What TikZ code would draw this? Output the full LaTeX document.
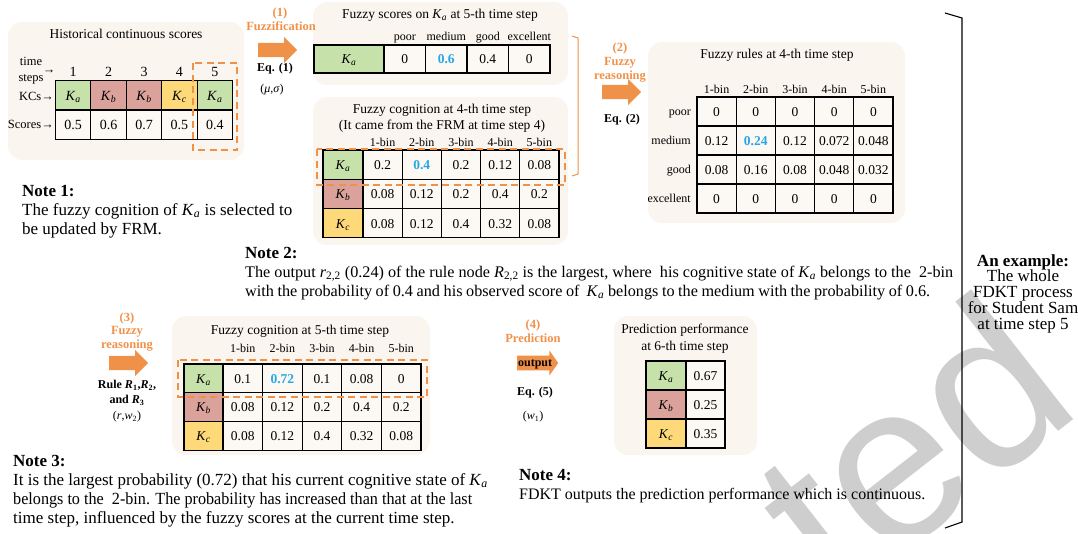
\documentclass[tikz,border=0pt]{standalone}
\usepackage{fontspec}
\usepackage{graphicx}
\setmainfont{Liberation Serif}
\setsansfont{Liberation Sans}
\usetikzlibrary{shapes.arrows}

\definecolor{panelbg}{HTML}{FAF5EE}
\definecolor{cellbg}{HTML}{FCF9F4}
\definecolor{kgreen}{HTML}{C6E1A9}
\definecolor{kpink}{HTML}{DAA29B}
\definecolor{kyellow}{HTML}{FDD97A}
\definecolor{accent}{HTML}{F0914A}
\definecolor{hiblue}{HTML}{26A6E4}
\definecolor{wmgray}{HTML}{CECECE}

% knowledge components and highlighted values
\newcommand\Ka{\textit{K}\textsubscript{\textit{a}}}
\newcommand\Kb{\textit{K}\textsubscript{\textit{b}}}
\newcommand\Kc{\textit{K}\textsubscript{\textit{c}}}
\newcommand\hival[1]{\textbf{\textcolor{hiblue}{#1}}}
% a note line set to a fixed width by squeezing its word spaces
\newcommand\fitline[2]{{\spaceskip=0.25em plus 0.12em minus 0.13em\relax\makebox[#1][s]{#2}}}
% a note line narrowed horizontally to a fixed width
\newcommand\narrowline[2]{\resizebox{#1}{\height}{#2}}

\begin{document}
\begin{tikzpicture}[x=1pt,y=-1pt,
  panel/.style={fill=panelbg, rounded corners=14pt},
  cell/.style={draw=black, line width=1.1pt, fill=cellbg, inner sep=0pt,
    text height=9.5pt, text depth=0pt, font=\fontsize{13.5}{16}\selectfont},
  selbox/.style={draw=accent, line width=2pt, dash pattern=on 7pt off 4.5pt},
  title/.style={inner sep=0pt, anchor=base, font=\fontsize{13.5}{16}\selectfont},
  mtitle/.style={inner sep=0pt, anchor=north, align=center},
  hdr/.style={inner sep=0pt, anchor=base, font=\fontsize{12}{14}\selectfont},
  rowlbl/.style={inner sep=0pt, font=\fontsize{12.5}{15}\selectfont},
  steplbl/.style={inner sep=0pt, text=accent, align=center, font=\bfseries\fontsize{12.5}{14.5}\selectfont},
  eqlbl/.style={inner sep=0pt, align=center, font=\bfseries\fontsize{12}{15}\selectfont},
  parlbl/.style={inner sep=0pt, font=\fontsize{12}{14}\selectfont},
  blockarr/.style={single arrow, fill=accent, draw=none, inner sep=0pt,
    text height=14pt, text depth=0pt, single arrow head extend=6pt,
    minimum height=39pt, anchor=tail},
  note/.style={inner sep=0pt, anchor=base west, font=\fontsize{17}{19}\selectfont},
  smallnote/.style={inner sep=0pt, anchor=base west, font=\fontsize{16.2}{19}\selectfont},
  notehead/.style={inner sep=0pt, anchor=base west, font=\bfseries\fontsize{17}{19}\selectfont},
  wmark/.style={inner sep=0pt, text=wmgray, rotate=38, anchor=base east,
    font=\sffamily\fontsize{228}{228}\selectfont},
]
\useasboundingbox (0,0) rectangle (1078,533);

% background watermark
\begin{scope}
  \clip (0,0) rectangle (1078,533);
  \node[wmark] (wm) at (1086,410) {ted};
\end{scope}

% ---------- panels ----------
\fill[panel] (8,22) rectangle (244,160);
\fill[panel] (313,2) rectangle (568,85);
\fill[panel] (313,97) rectangle (568,245);
\fill[panel] (648,42) rectangle (905,223);
\fill[panel] (172,316) rectangle (430,455);
\fill[panel] (614,316) rectangle (757,455);

% ---------- historical continuous scores ----------
\node[title] (p1t) at (126,38) {Historical continuous scores};
\node[rowlbl, align=center, font=\fontsize{12.5}{16}\selectfont] (tsl) at (31,71) {time\\steps};
\node[rowlbl] (tsa) at (49,72) {→};
\node[rowlbl, anchor=east] (kcl) at (54,96) {KCs→};
\node[rowlbl, anchor=east] (scl) at (54,124.7) {Scores→};
\foreach \i in {1,...,5}
  \node[inner sep=0pt, font=\fontsize{14}{16}\selectfont] (hn\i) at ({55.5+35.4*(\i-0.5)},72) {\i};
\foreach \f/\t [count=\i] in {kgreen/\Ka, kpink/\Kb, kpink/\Kb, kyellow/\Kc, kgreen/\Ka}
  \node[cell, fill=\f, minimum width=35.4pt, minimum height=29.3pt, font=\fontsize{14}{16}\selectfont]
    (hk\i) at ({55.5+35.4*(\i-0.5)},95.3) {\t};
\foreach \v [count=\i] in {0.5,0.6,0.7,0.5,0.4}
  \node[cell, minimum width=35.4pt, minimum height=29.3pt, font=\fontsize{14}{16}\selectfont]
    (hs\i) at ({55.5+35.4*(\i-0.5)},124.7) {\v};
\draw[selbox] (193,63) rectangle (237,150);

% ---------- step (1): fuzzification ----------
\node[steplbl] (s1n) at (280,13) {(1)};
\node[steplbl] (s1t) at (281,26) {Fuzzification};
\node[blockarr] (a1) at (258,50) {};
\node[eqlbl] (e1) at (275,69) {Eq. (1)};
\node[parlbl] (p1) at (272,90) {(\textit{μ},\textit{σ})};

% ---------- fuzzy scores ----------
\node[title] (p2t) at (440,18.5) {Fuzzy scores on \Ka{} at 5-th time step};
\foreach \h [count=\i] in {poor,medium,good,excellent}
  \node[hdr] (sh\i) at ({384+41.5*(\i-0.5)},40) {\h};
\node[cell, fill=kgreen, minimum width=70pt, minimum height=28pt] (sk) at (349,59) {\Ka};
\foreach \v [count=\i] in {0,\hival{0.6},0.4,0}
  \node[cell, minimum width=41.5pt, minimum height=28pt] (sv\i) at ({384+41.5*(\i-0.5)},59) {\v};

% ---------- fuzzy cognition at 4-th time step ----------
\node[mtitle, font=\fontsize{13.5}{16}\selectfont] (p3t) at (442,103.7)
  {Fuzzy cognition at 4-th time step\\(It came from the FRM at time step 4)};
\foreach \h [count=\i] in {1-bin,2-bin,3-bin,4-bin,5-bin}
  \node[hdr] (ch\i) at ({363+39.2*(\i-0.5)},146.5) {\h};
\foreach \f/\t [count=\r] in {kgreen/\Ka, kpink/\Kb, kyellow/\Kc}
  \node[cell, fill=\f, minimum width=40pt, minimum height=29.3pt] (ck\r) at (343,{150+29.3*(\r-0.5)}) {\t};
\foreach \v [count=\i] in {0.2,\hival{0.4},0.2,0.12,0.08}
  \node[cell, minimum width=39.2pt, minimum height=29.3pt] (ca\i) at ({363+39.2*(\i-0.5)},164.65) {\v};
\foreach \v [count=\i] in {0.08,0.12,0.2,0.4,0.2}
  \node[cell, minimum width=39.2pt, minimum height=29.3pt] (cb\i) at ({363+39.2*(\i-0.5)},193.95) {\v};
\foreach \v [count=\i] in {0.08,0.12,0.4,0.32,0.08}
  \node[cell, minimum width=39.2pt, minimum height=29.3pt] (cc\i) at ({363+39.2*(\i-0.5)},223.25) {\v};
\draw[selbox] (317,149) rectangle (565,185);

% bracket tying the fuzzy scores to the selected cognition row
\coordinate (ob1) at (572,36);
\coordinate (ob2) at (578,38);
\coordinate (ob3) at (578,174);
\coordinate (ob4) at (572,176);
\draw[accent, line width=1pt] (ob1) -- (ob2) -- (ob3) -- (ob4);

% ---------- step (2): fuzzy reasoning ----------
\node[steplbl] (s2n) at (620,48) {(2)};
\node[steplbl] (s2t) at (620,70) {Fuzzy\\reasoning};
\node[blockarr] (a2) at (602,92) {};
\node[eqlbl] (e2) at (622,120) {Eq. (2)};

% ---------- fuzzy rules ----------
\node[title] (p4t) at (777,58.5) {Fuzzy rules at 4-th time step};
\foreach \h [count=\i] in {1-bin,2-bin,3-bin,4-bin,5-bin}
  \node[hdr] (rh\i) at ({697+39.2*(\i-0.5)},93) {\h};
\foreach \l [count=\r] in {poor,medium,good,excellent}
  \node[inner sep=0pt, anchor=east, text height=8pt, text depth=0pt, font=\fontsize{12}{14}\selectfont]
    (rl\r) at (691,{97+29*(\r-0.5)}) {\l};
\foreach \v [count=\i] in {0,0,0,0,0}
  \node[cell, minimum width=39.2pt, minimum height=29pt] (ra\i) at ({697+39.2*(\i-0.5)},111.5) {\v};
\foreach \v [count=\i] in {0.12,\hival{0.24},0.12,0.072,0.048}
  \node[cell, minimum width=39.2pt, minimum height=29pt] (rb\i) at ({697+39.2*(\i-0.5)},140.5) {\v};
\foreach \v [count=\i] in {0.08,0.16,0.08,0.048,0.032}
  \node[cell, minimum width=39.2pt, minimum height=29pt] (rc\i) at ({697+39.2*(\i-0.5)},169.5) {\v};
\foreach \v [count=\i] in {0,0,0,0,0}
  \node[cell, minimum width=39.2pt, minimum height=29pt] (rd\i) at ({697+39.2*(\i-0.5)},198.5) {\v};

% ---------- note 1 and note 2 ----------
\node[notehead] (n1h) at (22,196) {Note 1:};
\node[note] (n1a) at (22,215) {The fuzzy cognition of \Ka{} is selected to};
\node[note] (n1b) at (22,234) {be updated by FRM.};

\node[notehead] (n2h) at (245,258) {Note 2:};
\node[smallnote] (n2a) at (245,277) {\fitline{708pt}{The output \textit{r}\textsubscript{2,2} (0.24) of the rule node \textit{R}\textsubscript{2,2} is the largest, where\ \ his cognitive state of \Ka{} belongs to the\ \ 2-bin}};
\node[smallnote] (n2b) at (245,296) {\fitline{685pt}{with the probability of 0.4 and his observed score of\ \ \Ka{} belongs to the medium with the probability of 0.6.}};

% ---------- step (3): fuzzy reasoning ----------
\node[steplbl] (s3n) at (127,318) {(3)};
\node[steplbl] (s3t) at (127,339) {Fuzzy\\reasoning};
\node[blockarr] (a3) at (109,363) {};
\node[eqlbl] (e3) at (127,393) {Rule \textit{R}\textsubscript{1},\textit{R}\textsubscript{2},\\and \textit{R}\textsubscript{3}};
\node[parlbl] (p3) at (127,417) {(\textit{r},\textit{w}\textsubscript{2})};

% ---------- fuzzy cognition at 5-th time step ----------
\node[title] (p5t) at (300,334) {Fuzzy cognition at 5-th time step};
\foreach \h [count=\i] in {1-bin,2-bin,3-bin,4-bin,5-bin}
  \node[hdr] (fh\i) at ({223+39.6*(\i-0.5)},352) {\h};
\foreach \f/\t [count=\r] in {kgreen/\Ka, kpink/\Kb, kyellow/\Kc}
  \node[cell, fill=\f, minimum width=39pt, minimum height=28.7pt] (fk\r) at (203.5,{364+28.7*(\r-0.5)}) {\t};
\foreach \v [count=\i] in {0.1,\hival{0.72},0.1,0.08,0}
  \node[cell, minimum width=39.6pt, minimum height=28.7pt] (fa\i) at ({223+39.6*(\i-0.5)},378.35) {\v};
\foreach \v [count=\i] in {0.08,0.12,0.2,0.4,0.2}
  \node[cell, minimum width=39.6pt, minimum height=28.7pt] (fb\i) at ({223+39.6*(\i-0.5)},407.05) {\v};
\foreach \v [count=\i] in {0.08,0.12,0.4,0.32,0.08}
  \node[cell, minimum width=39.6pt, minimum height=28.7pt] (fc\i) at ({223+39.6*(\i-0.5)},435.75) {\v};
\draw[selbox] (178,360) rectangle (427,397);

% ---------- note 3 ----------
\node[notehead] (n3h) at (13,466) {Note 3:};
\node[note] (n3a) at (13,485) {It is the largest probability (0.72) that his current cognitive state of \Ka};
\node[note] (n3b) at (13,504) {\narrowline{459pt}{belongs to the\ \ 2-bin. The probability has increased than that at the last}};
\node[note] (n3c) at (13,523) {time step, influenced by the fuzzy scores at the current time step.};

% ---------- step (4): prediction ----------
\node[steplbl] (s4t) at (533,331) {(4)\\Prediction};
\node[blockarr, text height=9.5pt, text depth=3pt, inner ysep=1pt,
  single arrow head extend=5pt, single arrow tip angle=110, minimum height=41pt,
  font=\bfseries\fontsize{12}{14}\selectfont] (a4) at (517,363) {output};
\node[eqlbl] (e4) at (535,393) {Eq. (5)};
\node[parlbl] (p4) at (533,417) {(\textit{w}\textsubscript{1})};

% ---------- prediction performance ----------
\node[mtitle, font=\fontsize{13.5}{17}\selectfont] (p6t) at (685,323.7)
  {Prediction performance\\at 6-th time step};
\foreach \f/\t/\v [count=\r] in {kgreen/\Ka/0.67, kpink/\Kb/0.25, kyellow/\Kc/0.35}{
  \node[cell, fill=\f, minimum width=40pt, minimum height=29pt] (pk\r) at (666,{361+29*(\r-0.5)}) {\t};
  \node[cell, minimum width=39pt, minimum height=29pt] (pv\r) at (705.5,{361+29*(\r-0.5)}) {\v};
}

% ---------- note 4 ----------
\node[notehead] (n4h) at (519,480) {Note 4:};
\node[inner sep=0pt, anchor=base west, font=\fontsize{16}{19}\selectfont] (n4a) at (519,499)
  {FDKT outputs the prediction performance which is continuous.};

% ---------- overall bracket and caption ----------
\coordinate (bb1) at (945,13);
\coordinate (bb2) at (962,18);
\coordinate (bb3) at (962,522);
\coordinate (bb4) at (945,528);
\draw[black, line width=1.1pt] (bb1) -- (bb2) -- (bb3) -- (bb4);
\node[mtitle, font=\fontsize{17}{15.5}\selectfont] (ex) at (1023,254)
  {\textbf{An example:}\\The whole\\FDKT process\\for Student Sam\\at time step 5};
\end{tikzpicture}
\end{document}
